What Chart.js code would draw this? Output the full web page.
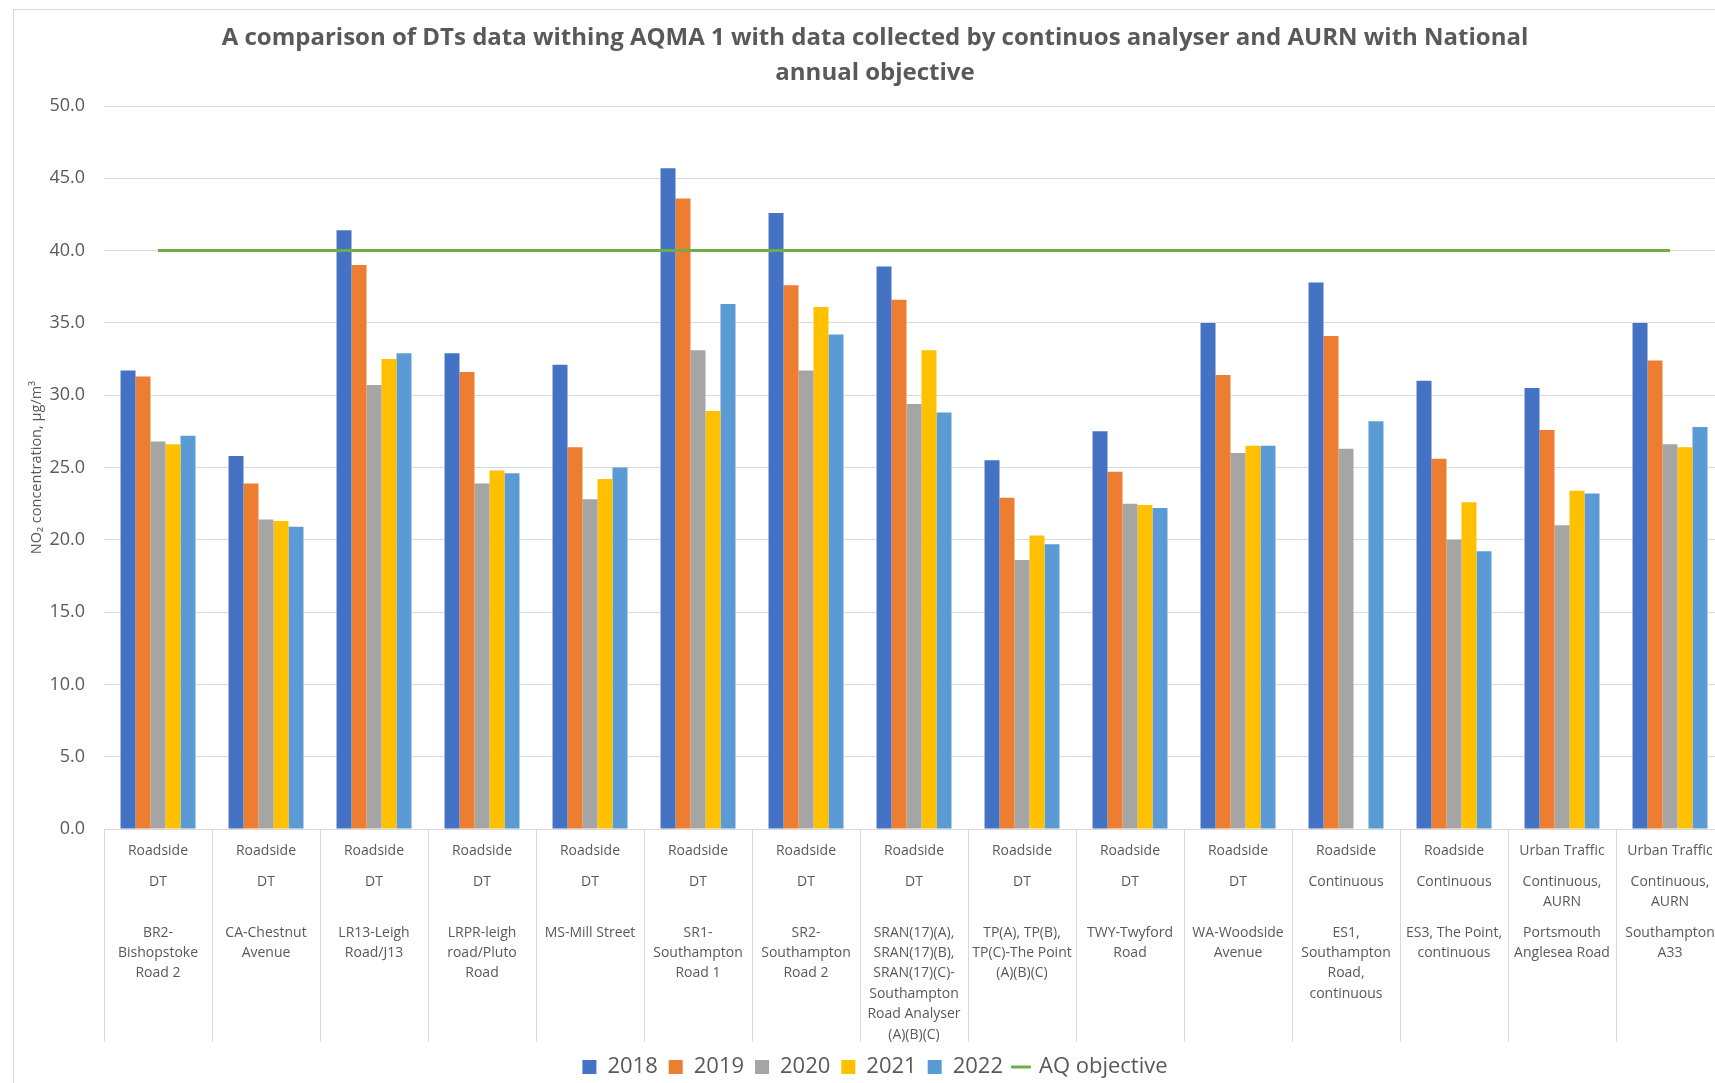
<!DOCTYPE html>
<html><head><meta charset="utf-8">
<script src="https://cdn.jsdelivr.net/npm/chart.js@4.4.0/dist/chart.umd.min.js"></script>
<style>
html,body{margin:0;padding:0;background:#fff;overflow:hidden;width:1715px;height:1083px;}
#frame{position:absolute;left:13px;top:9px;width:1800px;height:1200px;border-left:1px solid #d9d9d9;border-top:1px solid #d9d9d9;}
#wrap{position:absolute;left:0;top:0;width:1750px;height:1090px;}
</style></head>
<body><div id="frame"></div><div id="wrap"><canvas id="c" width="1750" height="1090"></canvas></div>
<script>
const titleLines = ['A comparison of DTs data withing AQMA 1 with data collected by continuos analyser and AURN with National', 'annual objective'];
const yAxisTitle = 'NO\u2082 concentration, \u00b5g/m\u00b3';
const siteTypes = ['Roadside','Roadside','Roadside','Roadside','Roadside','Roadside','Roadside','Roadside','Roadside','Roadside','Roadside','Roadside','Roadside','Urban Traffic','Urban Traffic'];
const methods = [['DT'],['DT'],['DT'],['DT'],['DT'],['DT'],['DT'],['DT'],['DT'],['DT'],['DT'],['Continuous'],['Continuous'],['Continuous,','AURN'],['Continuous,','AURN']];
const siteNames = [
  ['BR2-','Bishopstoke','Road 2'],
  ['CA-Chestnut','Avenue'],
  ['LR13-Leigh','Road/J13'],
  ['LRPR-leigh','road/Pluto','Road'],
  ['MS-Mill Street'],
  ['SR1-','Southampton','Road 1'],
  ['SR2-','Southampton','Road 2'],
  ['SRAN(17)(A),','SRAN(17)(B),','SRAN(17)(C)-','Southampton','Road Analyser','(A)(B)(C)'],
  ['TP(A), TP(B),','TP(C)-The Point','(A)(B)(C)'],
  ['TWY-Twyford','Road'],
  ['WA-Woodside','Avenue'],
  ['ES1,','Southampton','Road,','continuous'],
  ['ES3, The Point,','continuous'],
  ['Portsmouth','Anglesea Road'],
  ['Southampton','A33']
];
const years = ['2018','2019','2020','2021','2022'];
const values2018 = [31.7, 25.8, 41.4, 32.9, 32.1, 45.7, 42.6, 38.9, 25.5, 27.5, 35.0, 37.8, 31.0, 30.5, 35.0];
const values2019 = [31.3, 23.9, 39.0, 31.6, 26.4, 43.6, 37.6, 36.6, 22.9, 24.7, 31.4, 34.1, 25.6, 27.6, 32.4];
const values2020 = [26.8, 21.4, 30.7, 23.9, 22.8, 33.1, 31.7, 29.4, 18.6, 22.5, 26.0, 26.3, 20.0, 21.0, 26.6];
const values2021 = [26.6, 21.3, 32.5, 24.8, 24.2, 28.9, 36.1, 33.1, 20.3, 22.4, 26.5, null, 22.6, 23.4, 26.4];
const values2022 = [27.2, 20.9, 32.9, 24.6, 25.0, 36.3, 34.2, 28.8, 19.7, 22.2, 26.5, 28.2, 19.2, 23.2, 27.8];
const aqObjective = [40, 40, 40, 40, 40, 40, 40, 40, 40, 40, 40, 40, 40, 40, 40];
const yMin = 0, yMax = 50, yStep = 5;
const barColors = ['#4472C4','#ED7D31','#A5A5A5','#FFC000','#5B9BD5'];
const lineColor = '#70AD47';
const textColor = '#595959';
const gridColor = '#d9d9d9';

// Multi-level category labels: level 1 at line 0, level 2 at line 3, level 3 from line 8 (line height 10.2px)
const labels = siteTypes.map((t, i) => {
  const out = [t, '', ''];
  methods[i].forEach((m, j) => { if (j > 0) out.push(''); out.push(m); });
  while (out.length < 8) out.push('');
  siteNames[i].forEach((s, j) => { if (j > 0) out.push(''); out.push(s); });
  return out;
});

const seriesValues = [values2018, values2019, values2020, values2021, values2022];
const datasets = seriesValues.map((vals, k) => ({
  type: 'bar',
  label: years[k],
  data: vals,
  backgroundColor: barColors[k],
  borderWidth: 0,
  categoryPercentage: 0.694,
  barPercentage: 1.0,
  order: 1
}));
datasets.push({
  type: 'line',
  label: 'AQ objective',
  data: aqObjective,
  borderColor: lineColor,
  backgroundColor: lineColor,
  borderWidth: 3,
  pointRadius: 0,
  tension: 0,
  order: 0
});

new Chart(document.getElementById('c'), {
  data: { labels, datasets },
  options: {
    responsive: false,
    animation: false,
    layout: { padding: { left: 26, right: 26, top: 0, bottom: 2 } },
    plugins: {
      tooltip: { enabled: false },
      title: {
        display: true,
        text: titleLines,
        color: textColor,
        font: { family: 'Open Sans', size: 24, weight: 'bold', lineHeight: '35px' },
        padding: { top: 20.7, bottom: 15.3 }
      },
      legend: {
        position: 'bottom',
        labels: {
          sort: (a, b) => a.datasetIndex - b.datasetIndex,
          color: textColor,
          font: { family: 'Open Sans', size: 22 },
          usePointStyle: true,
          boxWidth: 14,
          boxHeight: 14,
          padding: 11,
          generateLabels: (chart) => {
            const items = Chart.defaults.plugins.legend.labels.generateLabels(chart);
            items.forEach(it => {
              const ds = chart.data.datasets[it.datasetIndex];
              if (ds.type === 'line') { it.pointStyle = 'line'; it.lineWidth = 3; it.strokeStyle = lineColor; }
              else { it.pointStyle = 'rect'; it.lineWidth = 0; }
            });
            return items;
          }
        }
      }
    },
    scales: {
      x: {
        offset: true,
        grid: { display: true, drawOnChartArea: false, drawTicks: true, tickLength: 213, color: gridColor, offset: true },
        border: { display: true, color: gridColor },
        ticks: {
          autoSkip: false,
          maxRotation: 0,
          minRotation: 0,
          padding: -196.1,
          color: textColor,
          font: { family: 'Open Sans', size: 14, lineHeight: '10.2px' }
        },
        afterFit: (scale) => { scale.height = 216; }
      },
      y: {
        min: yMin,
        max: yMax,
        grid: { color: gridColor, drawTicks: false },
        border: { display: false },
        ticks: {
          stepSize: yStep,
          padding: 19,
          color: textColor,
          font: { family: 'Open Sans', size: 18 },
          callback: (v) => Number(v).toFixed(1)
        },
        title: {
          display: true,
          text: yAxisTitle,
          color: textColor,
          font: { family: 'Open Sans', size: 14.5 },
          padding: { top: 2.3, bottom: 4 }
        },
        afterFit: (scale) => { scale.width = 78; }
      }
    }
  }
});
</script>
</body></html>
